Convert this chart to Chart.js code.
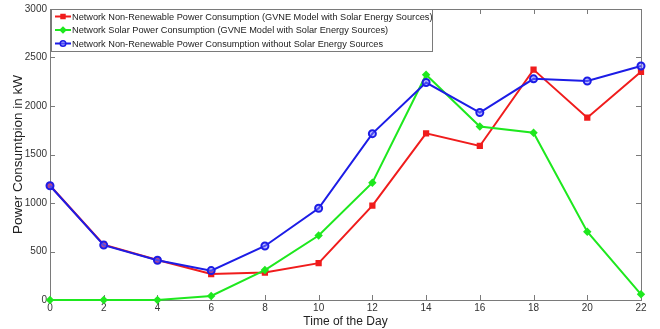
<!DOCTYPE html>
<html>
<head>
<meta charset="utf-8">
<script src="https://cdn.jsdelivr.net/npm/chart.js@4/dist/chart.umd.min.js"></script>
<style>
  html, body { margin: 0; padding: 0; background: #fff; }
  #wrap { width: 660px; height: 329px; position: relative; }
</style>
</head>
<body>
<div id="wrap"><canvas id="powerChart"></canvas></div>
<script>
var hours = [0, 2, 4, 6, 8, 10, 12, 14, 16, 18, 20, 22];
var nonRenewableGvne = [1180, 570, 412, 268, 283, 380, 972, 1718, 1588, 2375, 1880, 2352];
var solarGvne = [0, 0, 0, 42, 309, 665, 1209, 2322, 1788, 1725, 704, 59];
var nonRenewableNoSolar = [1178, 566, 410, 303, 557, 946, 1715, 2242, 1933, 2280, 2258, 2412];
var seriesNames = [
    'Network Non-Renewable Power Consumption (GVNE Model with Solar Energy Sources)',
    'Network Solar Power Consumption (GVNE Model with Solar Energy Sources)',
    'Network Non-Renewable Power Consumption without Solar Energy Sources'
];

function toPoints(values) {
    return hours.map((h, i) => ({ x: h, y: values[i] }));
}

var red = '#f01c1c';
var green = '#1ee81e';
var blue = '#1c1ce6';
var fontFamily = '"Liberation Sans", Arial, sans-serif';

// matlab style frame with inward ticks + legend box inside the plot
var frameAndLegend = {
    id: 'frameAndLegend',
    beforeDatasetsDraw: function (chart) {
        var ctx = chart.ctx;
        var a = chart.chartArea;
        var xs = chart.scales.x, ys = chart.scales.y;
        ctx.save();
        ctx.strokeStyle = '#7a7a7a';
        ctx.lineWidth = 1;
        ctx.strokeRect(a.left + 0.5, a.top + 0.5, a.right - a.left, a.bottom - a.top);
        ctx.beginPath();
        xs.ticks.forEach(function (t) {
            var px = Math.round(xs.getPixelForValue(t.value)) + 0.5;
            ctx.moveTo(px, a.bottom); ctx.lineTo(px, a.bottom - 5);
            ctx.moveTo(px, a.top); ctx.lineTo(px, a.top + 5);
        });
        ys.ticks.forEach(function (t) {
            var py = Math.round(ys.getPixelForValue(t.value)) + 0.5;
            ctx.moveTo(a.left, py); ctx.lineTo(a.left + 5, py);
            ctx.moveTo(a.right, py); ctx.lineTo(a.right - 5, py);
        });
        ctx.stroke();
        ctx.restore();
    },
    afterDraw: function (chart) {
        var ctx = chart.ctx;
        var a = chart.chartArea;
        ctx.save();
        var lx = a.left + 1, ly = a.top, lw = 381, lh = 42;
        ctx.fillStyle = '#fff';
        ctx.fillRect(lx, ly, lw, lh);
        ctx.strokeStyle = '#7a7a7a';
        ctx.lineWidth = 1;
        ctx.strokeRect(lx + 0.5, ly + 0.5, lw, lh);
        var cols = [red, green, blue];
        var styles = ['rect', 'rectRot', 'circle'];
        var fills = [red, green, 'rgba(120,120,255,0.5)'];
        ctx.font = '9.2px ' + fontFamily;
        ctx.textBaseline = 'middle';
        for (var i = 0; i < 3; i++) {
            var yy = ly + 7.5 + i * 13.5;
            ctx.strokeStyle = cols[i];
            ctx.lineWidth = 2;
            ctx.beginPath();
            ctx.moveTo(lx + 4, yy); ctx.lineTo(lx + 20, yy);
            ctx.stroke();
            ctx.fillStyle = fills[i];
            ctx.lineWidth = 1.5;
            Chart.helpers.drawPoint(ctx, {
                pointStyle: styles[i], radius: 2.8, borderWidth: 1.5, rotation: 0
            }, lx + 12, yy);
            ctx.fillStyle = '#222';
            ctx.fillText(seriesNames[i], lx + 21, yy + 0.5);
        }
        ctx.restore();
    }
};

var tickFont = { size: 10, family: fontFamily };

var ctxPower = document.getElementById('powerChart').getContext('2d');
var powerChart = new Chart(ctxPower, {
    type: 'line',
    data: {
        datasets: [{
            label: seriesNames[0],
            data: toPoints(nonRenewableGvne),
            borderColor: red,
            backgroundColor: red,
            pointStyle: 'rect',
            pointRadius: 3,
            borderWidth: 2,
            clip: false,
            order: 2
        },
        {
            label: seriesNames[1],
            data: toPoints(solarGvne),
            borderColor: green,
            backgroundColor: green,
            pointStyle: 'rectRot',
            pointRadius: 2.8,
            borderWidth: 2,
            clip: false,
            order: 1
        },
        {
            label: seriesNames[2],
            data: toPoints(nonRenewableNoSolar),
            borderColor: blue,
            backgroundColor: 'rgba(120,120,255,0.5)',
            pointStyle: 'circle',
            pointRadius: 3.5,
            pointBorderWidth: 2,
            borderWidth: 2,
            clip: false,
            order: 0
        }]
    },
    options: {
        responsive: true,
        maintainAspectRatio: false,
        animation: false,
        layout: { padding: { top: 9, right: 19, left: 0, bottom: 0 } },
        plugins: {
            legend: { display: false },
            tooltip: { enabled: false }
        },
        scales: {
            x: {
                type: 'linear',
                min: 0,
                max: 22,
                ticks: { stepSize: 2, color: '#333', font: tickFont, padding: 2, maxRotation: 0 },
                grid: { display: false, drawTicks: false },
                border: { display: false },
                title: { display: true, text: 'Time of the Day', color: '#222', padding: 0, font: { size: 12, family: fontFamily } },
                afterFit: function (s) { s.height = 29; }
            },
            y: {
                min: 0,
                max: 3000,
                ticks: {
                    stepSize: 500, color: '#333', font: tickFont, padding: 3,
                    callback: function (v) { return String(v); }
                },
                grid: { display: false, drawTicks: false },
                border: { display: false },
                title: { display: true, text: 'Power Consumtpion in kW', color: '#222', padding: { top: 10, bottom: 0 }, font: { size: 13.5, family: fontFamily } },
                afterFit: function (s) { s.width = 50; }
            }
        }
    },
    plugins: [frameAndLegend]
});
</script>
</body>
</html>
